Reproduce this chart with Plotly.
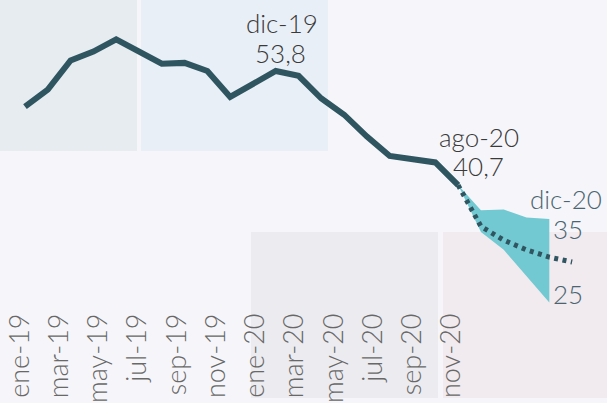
import plotly.graph_objects as go

# ---- data ----
months = ["ene-19", "feb-19", "mar-19", "abr-19", "may-19", "jun-19", "jul-19", "ago-19",
          "sep-19", "oct-19", "nov-19", "dic-19", "ene-20", "feb-20", "mar-20", "abr-20",
          "may-20", "jun-20", "jul-20", "ago-20"]
actual = [49.4, 51.5, 55.1, 56.2, 57.7, 56.2, 54.7, 54.8, 53.8, 50.6, 52.3, 53.8,
          53.2, 50.4, 48.4, 45.7, 43.3, 42.9, 42.5, 39.7]

fc_idx = [19, 20, 21, 22, 23]            # ago-20 .. dic-20
fc_upper = [39.7, 36.6, 36.7, 35.7, 35.5]
fc_lower = [39.7, 33.9, 31.7, 28.4, 25.2]
fc_mid_idx = [19, 20, 21, 22, 23, 24]
fc_mid = [39.7, 34.6, 32.9, 31.7, 30.8, 30.2]

tick_vals = list(range(0, 24, 2))
tick_labels = ["ene-19", "mar-19", "may-19", "jul-19", "sep-19", "nov-19",
               "ene-20", "mar-20", "may-20", "jul-20", "sep-20", "nov-20"]

W, H = 607, 403
FONT = "Lato"
LINE = "#2f5561"
FAN = "#72c9d2"
TXT = "#3a3a3a"
SLATE = "#4a6571"

x_actual = list(range(len(actual)))

fig = go.Figure()
fig.add_trace(go.Scatter(x=fc_idx, y=fc_upper, mode="lines", line=dict(width=0, color=FAN),
                         hoverinfo="skip", showlegend=False))
fig.add_trace(go.Scatter(x=fc_idx, y=fc_lower, mode="lines", line=dict(width=0, color=FAN),
                         fill="tonexty", fillcolor=FAN, hoverinfo="skip", showlegend=False))
fig.add_trace(go.Scatter(x=fc_mid_idx, y=fc_mid, mode="lines",
                         line=dict(width=5, color=LINE, dash="4px,4.5px"), showlegend=False))
fig.add_trace(go.Scatter(x=x_actual, y=actual, mode="lines",
                         line=dict(width=6, color=LINE), showlegend=False))
# invisible trace on tick-label axis
fig.add_trace(go.Scatter(x=[tick_vals[0]], y=[actual[0]], xaxis="x2", mode="markers",
                         marker=dict(opacity=0), hoverinfo="skip", showlegend=False))

# background panels (paper coords)
panels = [
    (0, 137, 0, 153, "#e6ecf0"),
    (141, 328, 0, 153, "#e9eff6"),
    (251, 438, 235, 403, "#ebebf0"),
    (443, 607, 235, 403, "#f1eaee"),
]
for x0, x1, y0, y1, c in panels:
    fig.add_shape(type="rect", xref="paper", yref="paper",
                  x0=x0 / W, x1=x1 / W, y0=1 - y1 / H, y1=1 - y0 / H,
                  fillcolor=c, line=dict(width=0), layer="below")

def ann(text, x, y, xs, ys, color, xanchor="center"):
    fig.add_annotation(text=text, x=x, y=y, xref="x", yref="y", showarrow=False,
                       xanchor=xanchor, yanchor="middle", xshift=xs, yshift=ys,
                       font=dict(family=FONT, size=26, color=color, weight=300))

ann("dic-19", 11, actual[11], 6, 48, TXT)
ann("53,8", 11, actual[11], 5, 18, TXT)
ann("ago-20", 19, actual[19], 21, 48, TXT)
ann("40,7", 19, actual[19], 20, 19, TXT)
ann("dic-20", 23, fc_upper[-1], 17, 20, SLATE)
ann("35", 23, fc_upper[-1], 2, -10, SLATE, xanchor="left")
ann("25", 23, fc_lower[-1], 2, 8, SLATE, xanchor="left")

fig.update_layout(
    width=W, height=H,
    margin=dict(l=0, r=0, t=0, b=0),
    paper_bgcolor="#f6f6fa",
    plot_bgcolor="rgba(0,0,0,0)",
    font=dict(family=FONT),
    xaxis=dict(range=[-1.096, 25.53], showgrid=False, zeroline=False,
               showticklabels=False, showline=False, ticks=""),
    yaxis=dict(range=[13.40, 62.57], showgrid=False, zeroline=False,
               showticklabels=False, showline=False, ticks=""),
    xaxis2=dict(overlaying="x", anchor="free", position=1 - 311 / H, side="bottom",
                range=[-1.019, 29.92], tickmode="array", tickvals=tick_vals,
                ticktext=tick_labels, tickangle=-90, showgrid=False, zeroline=False,
                showline=False, ticks="",
                tickfont=dict(family=FONT, size=27, color="#686868", weight=300)),
)

fig.write_html("out.html", config={"displayModeBar": False},
               post_script="document.body.style.margin='0';document.body.style.overflow='hidden';")
